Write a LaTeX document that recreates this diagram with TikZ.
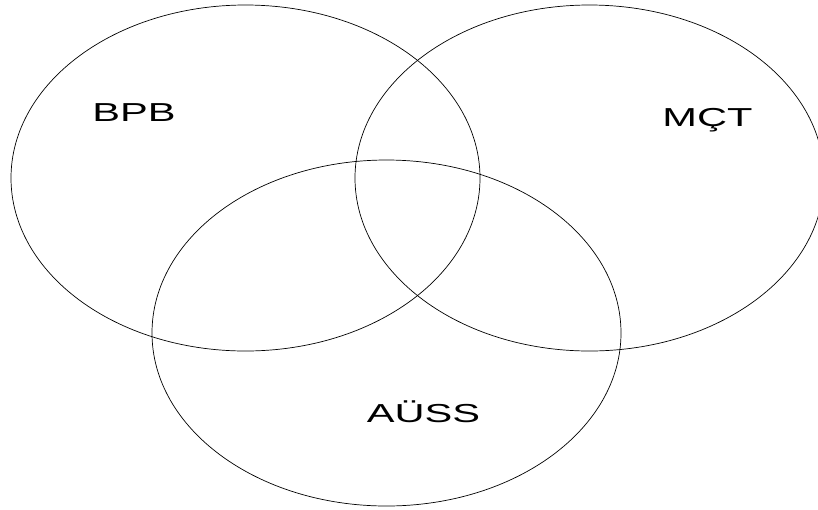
\documentclass[tikz,border=0pt]{standalone}
\usepackage{fontspec}
\setmainfont{Liberation Sans}
\usetikzlibrary{positioning}

\begin{document}
\begin{tikzpicture}[x=1pt,y=-1pt,
        set/.style={draw=black, line width=0.7pt},
        lbl/.style={inner sep=0pt, anchor=base, xscale=1.6,
                    font=\fontsize{26}{30}\selectfont}]
        \useasboundingbox (0,0) rectangle (818,509);
        % the three sets
        \draw[set] (245.5,178) ellipse [x radius=234.5, y radius=173];
        \draw[set] (589.5,178) ellipse [x radius=234.5, y radius=173];
        \draw[set] (386.5,333) ellipse [x radius=234.5, y radius=173];
        % labels
        \node[lbl] (bpb)  at (134,121)   {BPB};
        \node[lbl] (mct)  at (707.5,126) {MÇT};
        \node[lbl] (auss) at (423.5,422) {AÜSS};
      \end{tikzpicture}
\end{document}
